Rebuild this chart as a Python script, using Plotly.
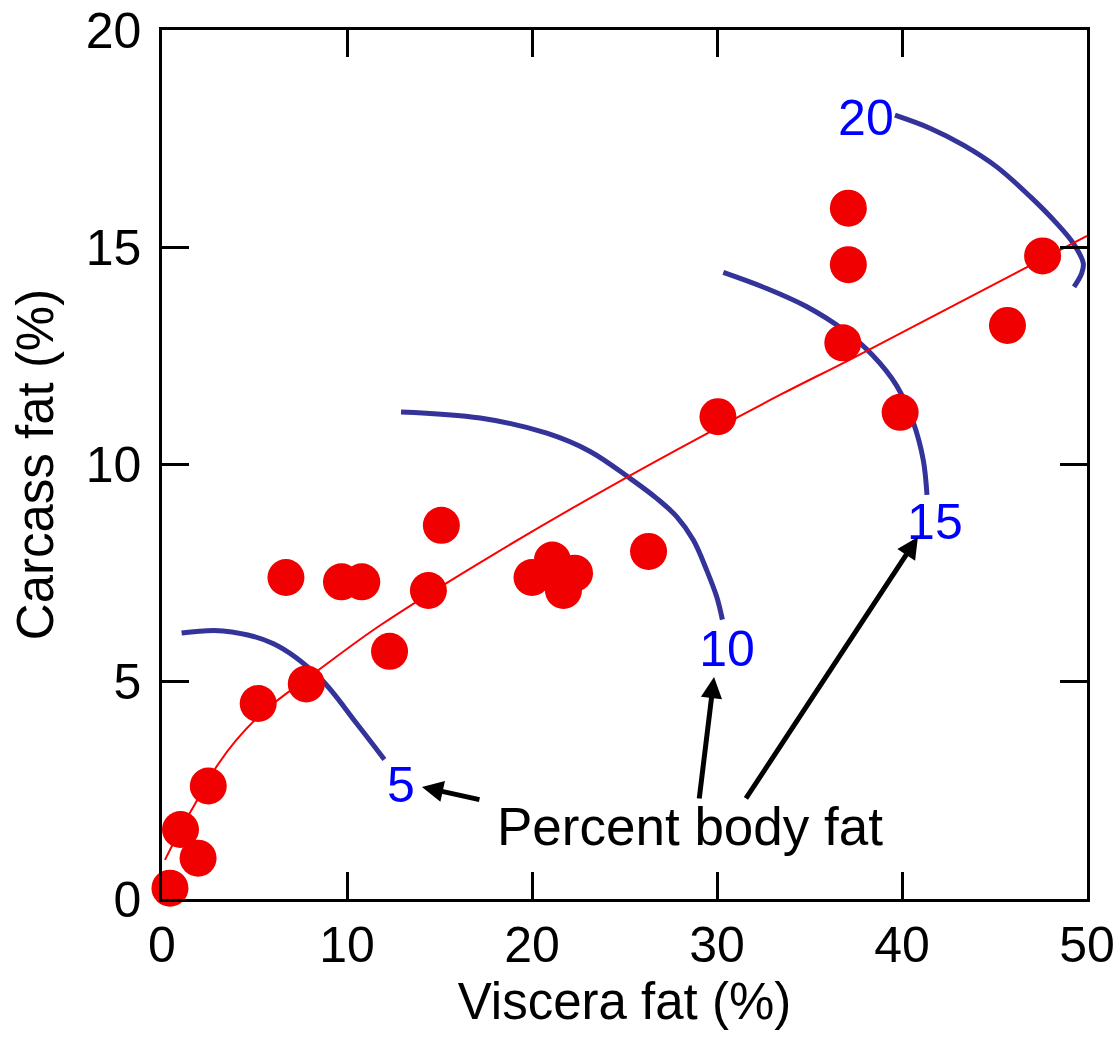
import plotly.graph_objects as go

# Data points (Viscera fat %, Carcass fat %)
viscera = [0.43, 1.0, 1.95, 2.5, 5.2, 7.8, 6.7, 9.7, 10.8, 12.3, 14.4, 15.1,
           20.0, 21.1, 21.7, 22.3, 26.3, 30.05, 36.8, 37.1, 37.1, 39.9, 45.7, 47.6]
carcass = [0.25, 1.6, 0.94, 2.6, 4.5, 4.95, 7.4, 7.3, 7.3, 5.7, 7.1, 8.6,
           7.4, 7.8, 7.1, 7.5, 8.0, 11.1, 12.8, 14.6, 15.9, 11.2, 13.2, 14.8]

# Fitted curve
fit_x = [0.16, 1.0, 1.8, 2.8, 4.0, 5.6, 8.4, 11.8, 18.0, 25.1, 33.4, 37.35, 50.0]
fit_y = [0.9, 1.6, 2.2, 2.95, 3.65, 4.35, 5.25, 6.3, 7.95, 9.7, 11.6, 12.45, 15.26]

# Iso-lines of percent body fat
iso5_x = [1.06, 3.3, 6.0, 8.5, 10.5, 12.02]
iso5_y = [6.12, 6.17, 5.88, 5.1, 4.05, 3.21]
iso10_x = [12.92, 17.2, 20.8, 23.14, 25.3, 26.74, 27.82, 28.72, 29.44, 29.98, 30.29]
iso10_y = [11.21, 11.07, 10.72, 10.30, 9.68, 9.22, 8.80, 8.26, 7.57, 6.96, 6.43]
iso15_x = [30.34, 32.69, 34.86, 36.83, 38.4, 39.7, 40.6, 41.15, 41.35]
iso15_y = [14.42, 14.05, 13.63, 13.1, 12.52, 11.82, 10.98, 10.1, 9.3]
iso20_x = [39.62, 41.51, 43.32, 45.12, 46.92, 48.36, 49.26, 49.8, 49.71, 49.3]
iso20_y = [18.04, 17.74, 17.35, 16.85, 16.17, 15.55, 15.09, 14.63, 14.40, 14.09]

iso_labels = ["5", "10", "15", "20"]
iso_label_x = [12.92, 30.54, 41.78, 38.05]
iso_label_y = [2.52, 5.66, 8.57, 17.88]

x_ticks = [0, 10, 20, 30, 40, 50]
y_ticks = [0, 5, 10, 15, 20]

FONT = "Liberation Sans, Arial, sans-serif"
BLUE_LINE = "#333399"

fig = go.Figure()

for ix, iy in [(iso5_x, iso5_y), (iso10_x, iso10_y), (iso15_x, iso15_y), (iso20_x, iso20_y)]:
    fig.add_trace(go.Scatter(x=ix, y=iy, mode="lines",
                             line=dict(color=BLUE_LINE, width=5, shape="spline", smoothing=1.0),
                             hoverinfo="skip", showlegend=False))

fig.add_trace(go.Scatter(x=fit_x, y=fit_y, mode="lines",
                         line=dict(color="#FF0000", width=2, shape="spline"),
                         showlegend=False))

fig.add_trace(go.Scatter(x=viscera, y=carcass, mode="markers",
                         marker=dict(color="#F00000", size=37, line=dict(width=0)),
                         cliponaxis=False, showlegend=False))

fig.add_trace(go.Scatter(x=iso_label_x, y=iso_label_y, mode="text", text=iso_labels,
                         textfont=dict(color="#0000FF", size=50, family=FONT),
                         cliponaxis=False, showlegend=False))

# Arrows (tip x,y ; tail ax,ay)
arrows = [(14.05, 2.58, 17.24, 2.28), (29.84, 5.11, 29.03, 2.28), (40.86, 8.33, 31.51, 2.28)]
for x, y, ax, ay in arrows:
    fig.add_annotation(x=x, y=y, ax=ax, ay=ay, xref="x", yref="y", axref="x", ayref="y",
                       text="", showarrow=True, arrowhead=2, arrowsize=0.85,
                       arrowwidth=5, arrowcolor="black")

fig.add_annotation(x=28.54, y=1.68, xref="x", yref="y", text="Percent body fat",
                   showarrow=False, font=dict(size=53, color="black", family=FONT),
                   xanchor="center", yanchor="middle")

axis_common = dict(showline=True, linecolor="black", linewidth=2.5, mirror="ticks",
                   ticks="inside", ticklen=27, tickwidth=2.5, tickcolor="black",
                   showgrid=False, zeroline=False,
                   tickfont=dict(size=50, color="black", family=FONT))

fig.update_xaxes(range=[0, 50], tickvals=x_ticks,
                 title=dict(text="Viscera fat (%)", font=dict(size=51, color="black", family=FONT),
                            standoff=10),
                 **axis_common)
fig.update_yaxes(range=[0, 20], tickvals=y_ticks, ticklabelstandoff=8,
                 title=dict(text="Carcass fat (%)", font=dict(size=51, color="black", family=FONT),
                            standoff=16),
                 **axis_common)

fig.update_layout(width=1119, height=1038,
                  margin=dict(l=162, r=32, t=30, b=139, autoexpand=False),
                  plot_bgcolor="white", paper_bgcolor="white",
                  font=dict(family=FONT))

fig.write_html("out.html")
